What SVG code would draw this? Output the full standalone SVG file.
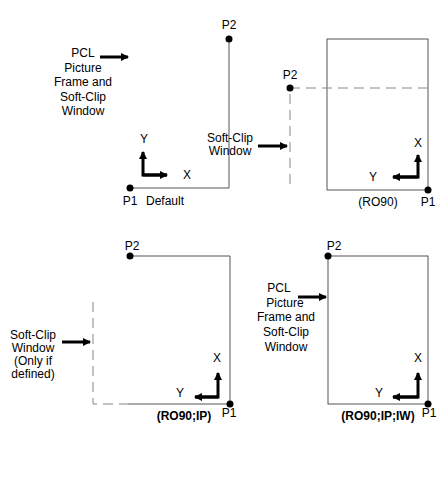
<svg xmlns="http://www.w3.org/2000/svg" width="439" height="491" viewBox="0 0 439 491">
<defs>
<marker id="ah" markerWidth="8" markerHeight="8" refX="7" refY="4" orient="auto" markerUnits="userSpaceOnUse">
<path d="M0,0 L8,4 L0,8 Z" fill="#000"/>
</marker>
<style>
text{font-family:"Liberation Sans",Arial,sans-serif;font-size:12px;fill:#000;text-anchor:middle}
.b{font-weight:bold}
.ln{stroke:#555;stroke-width:1;fill:none}
.ds{stroke:#888;stroke-width:1;fill:none;stroke-dasharray:10,6}
.ar{stroke:#000;stroke-width:3;fill:none;marker-end:url(#ah)}
.dot{fill:#000}
</style>
</defs>
<rect width="439" height="491" fill="#fff"/>

<g id="connectors">
<polyline class="ln" points="229,39 229,188 130,188"/>
<rect class="ln" x="327" y="39" width="101" height="151"/>
<polyline class="ds" points="428,88 290,88 290,188"/>
<polyline class="ln" points="130,256 230,256 230,404 128,404"/>
<polyline class="ds" points="93,302 93,404 128,404"/>
<rect class="ln" x="328" y="256" width="100" height="148"/>
<line class="ar" x1="100" y1="57" x2="128" y2="57"/>
<line class="ar" x1="258" y1="146" x2="287" y2="146"/>
<line class="ar" x1="62" y1="342" x2="90" y2="342"/>
<line class="ar" x1="298" y1="297" x2="326" y2="297"/>
<polyline class="ar" points="167,175 143,175 143,152"/>
<line class="ar" x1="143" y1="175" x2="167" y2="175"/>
<polyline class="ar" points="393,177 418,177 418,155"/>
<line class="ar" x1="418" y1="177" x2="393" y2="177"/>
<polyline class="ar" points="195,397 218,397 218,373"/>
<line class="ar" x1="218" y1="397" x2="195" y2="397"/>
<polyline class="ar" points="393,397 418,397 418,373"/>
<line class="ar" x1="418" y1="397" x2="393" y2="397"/>
</g>

<g id="panel-default">
<circle class="dot" cx="229" cy="39" r="3.5"/>
<circle class="dot" cx="130" cy="188" r="3.5"/>
<text x="229" y="29">P2</text>
<text x="130" y="205">P1</text>
<text x="165" y="205">Default</text>
<text x="144" y="143">Y</text>
<text x="187" y="179">X</text>
</g>

<g id="label-pcl-top">
<text x="83" y="57">PCL</text>
<text x="83" y="72">Picture</text>
<text x="83" y="86">Frame  and</text>
<text x="83" y="101">Soft-Clip</text>
<text x="83" y="115">Window</text>
</g>

<g id="label-softclip-top">
<text x="230" y="142">Soft-Clip</text>
<text x="230" y="155">Window</text>
</g>

<g id="panel-ro90">
<circle class="dot" cx="290" cy="88" r="3.5"/>
<circle class="dot" cx="428" cy="190" r="3.5"/>
<text x="290" y="79">P2</text>
<text x="428" y="206">P1</text>
<text x="378" y="206">(RO90)</text>
<text x="418" y="147">X</text>
<text x="373" y="181">Y</text>
</g>

<g id="panel-ro90-ip">
<circle class="dot" cx="130" cy="256" r="3.5"/>
<circle class="dot" cx="230" cy="404" r="3.5"/>
<text x="132" y="250">P2</text>
<text x="229" y="417">P1</text>
<text class="b" x="184" y="420">(RO90;IP)</text>
<text x="217" y="362">X</text>
<text x="180" y="397">Y</text>
</g>

<g id="label-softclip-bottom">
<text x="33" y="339">Soft-Clip</text>
<text x="33" y="352">Window</text>
<text x="33" y="365">(Only  if</text>
<text x="33" y="378">defined)</text>
</g>

<g id="panel-ro90-ip-iw">
<circle class="dot" cx="328" cy="256" r="3.5"/>
<circle class="dot" cx="428" cy="404" r="3.5"/>
<text x="334" y="250">P2</text>
<text x="429" y="417">P1</text>
<text class="b" x="378" y="420">(RO90;IP;IW)</text>
<text x="418" y="362">X</text>
<text x="379" y="397">Y</text>
</g>

<g id="label-pcl-bottom">
<text x="279" y="292">PCL</text>
<text x="285" y="307">Picture</text>
<text x="286" y="321">Frame  and</text>
<text x="286" y="336">Soft-Clip</text>
<text x="286" y="351">Window</text>
</g>
</svg>
